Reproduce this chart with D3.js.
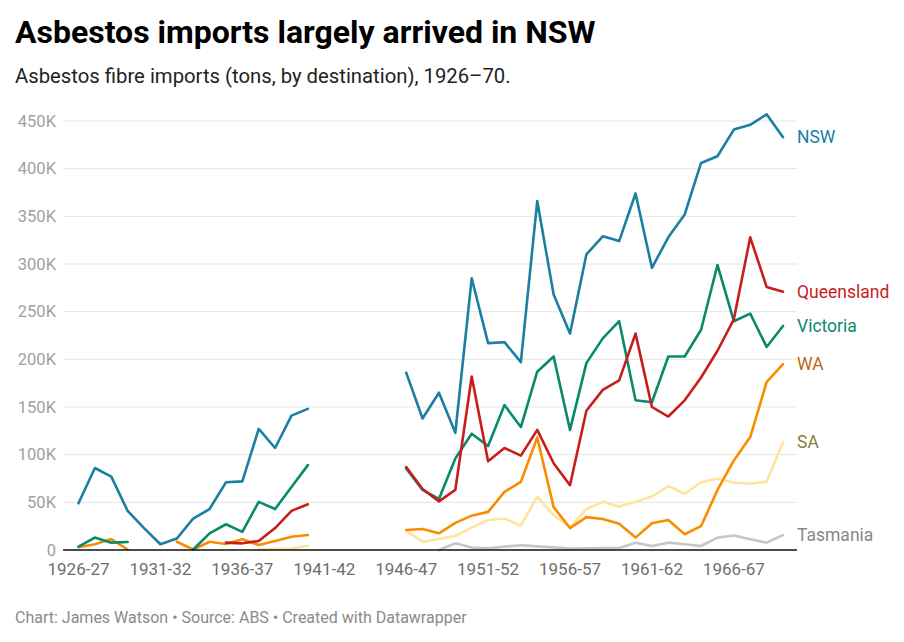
<!DOCTYPE html>
<html>
<head>
<meta charset="utf-8">
<script src="https://cdn.jsdelivr.net/npm/d3@7"></script>
<style>
  body { margin: 0; background: #fff; }
  svg { display: block; font-family: Roboto, "Noto Sans", sans-serif; }
</style>
</head>
<body>
<svg width="904" height="642"></svg>
<script>
// financial years, 1926-27 to 1969-70 (war years have no data)
var years = ["1926-27","1927-28","1928-29","1929-30","1930-31","1931-32","1932-33","1933-34","1934-35","1935-36",
  "1936-37","1937-38","1938-39","1939-40","1940-41","1941-42","1942-43","1943-44","1944-45","1945-46",
  "1946-47","1947-48","1948-49","1949-50","1950-51","1951-52","1952-53","1953-54","1954-55","1955-56",
  "1956-57","1957-58","1958-59","1959-60","1960-61","1961-62","1962-63","1963-64","1964-65","1965-66",
  "1966-67","1967-68","1968-69","1969-70"];

var xTicks = ["1926-27","1931-32","1936-37","1941-42","1946-47","1951-52","1956-57","1961-62","1966-67"];
var yTicks = [0, 50000, 100000, 150000, 200000, 250000, 300000, 350000, 400000, 450000];

var nsw = [49000, 86000, 77000, 41000, 23000, 6000, 12000, 33000, 43000, 71000,
  72000, 127000, 107000, 141000, 148000, null, null, null, null, null,
  186000, 138000, 165000, 123000, 285000, 217000, 218000, 197000, 366000, 268000,
  227000, 310000, 329000, 324000, 374000, 296000, 328000, 352000, 406000, 413000,
  441000, 446000, 457000, 433000];

var queensland = [null, null, null, null, null, null, null, null, null, 7700,
  7000, 9400, 23000, 41000, 48000, null, null, null, null, null,
  87000, 64000, 51000, 63000, 182000, 93000, 107000, 99000, 126000, 91000,
  68000, 146000, 168000, 178000, 227000, 150000, 140000, 157000, 181000, 209000,
  242000, 328000, 276000, 271000];

var victoria = [3500, 13000, 7700, 8400, null, null, null, 500, 17500, 27000,
  19000, 50500, 43000, 66000, 89000, null, null, null, null, null,
  85500, 63000, 53500, 96000, 122000, 109000, 152000, 129000, 187000, 203000,
  126000, 196000, 222000, 240000, 157000, 155000, 203000, 203000, 231000, 299000,
  240000, 248000, 213000, 235000];

var wa = [2800, 6000, 11500, 500, null, null, 8700, 500, 8700, 6300,
  11200, 5200, 9400, 13900, 15700, null, null, null, null, null,
  21000, 22000, 17500, 28500, 36000, 40000, 61000, 71500, 118000, 45000,
  23000, 34500, 32500, 27500, 13000, 28000, 31500, 16500, 25000, 63000,
  94000, 118500, 176000, 195000];

var sa = [null, null, null, null, null, null, null, null, null, null,
  null, 500, 1000, 1500, 4500, null, null, null, null, null,
  20000, 8700, 11500, 14700, 23500, 31500, 33000, 25500, 56000, 36500,
  24000, 43000, 50500, 45500, 50500, 56000, 67000, 59000, 71000, 75000,
  70500, 69500, 71500, 113000];

var tasmania = [null, null, null, null, null, null, null, null, null, null,
  null, null, null, null, null, null, null, null, null, null,
  null, null, 0, 7000, 2500, 1700, 3500, 5000, 3800, 2800,
  1400, 1700, 2000, 2000, 7700, 4200, 7700, 6000, 4200, 13000,
  15300, 11200, 7700, 15700];

var seriesNames = ["Tasmania", "SA", "WA", "Victoria", "Queensland", "NSW"];
var seriesValues = [tasmania, sa, wa, victoria, queensland, nsw];
var lineColors = ["#c6c6c6", "#ffe49c", "#fa8c00", "#0a8a6c", "#c71e1d", "#1a7fa2"];
var labelColors = ["#888888", "#8c7d3c", "#c4660b", "#0a8a6c", "#c71e1d", "#1a7fa2"];

var svg = d3.select("svg"),
    width = 904,
    height = 642;

var x = d3.scalePoint().domain(years).range([78.5, 783]);
var y = d3.scaleLinear().domain([0, 450000]).range([550, 121]);

// title block
svg.append("text")
    .attr("x", 15).attr("y", 43)
    .attr("font-size", 32).attr("font-weight", 700).attr("fill", "#000")
    .text("Asbestos imports largely arrived in NSW");

svg.append("text")
    .attr("x", 15).attr("y", 83)
    .attr("font-size", 20.3).attr("fill", "#222")
    .text("Asbestos fibre imports (tons, by destination), 1926–70.");

// gridlines + y labels
var grid = svg.append("g");
grid.selectAll("line")
    .data(yTicks.filter(d => d > 0))
    .join("line")
    .attr("x1", 63).attr("x2", 797)
    .attr("y1", d => y(d)).attr("y2", d => y(d))
    .attr("stroke", "#e4e4e4").attr("stroke-width", 1);

grid.selectAll("text")
    .data(yTicks)
    .join("text")
    .attr("x", 56).attr("y", d => y(d))
    .attr("dy", "0.35em")
    .attr("text-anchor", "end")
    .attr("font-size", 16.5).attr("fill", "#a0a0a0")
    .text(d => d === 0 ? "0" : (d / 1000) + "K");

// x axis labels
svg.append("g").selectAll("text")
    .data(xTicks)
    .join("text")
    .attr("x", d => x(d)).attr("y", 575)
    .attr("text-anchor", "middle")
    .attr("font-size", 17).attr("fill", "#6e6e6e")
    .text(d => d);

// lines
var line = d3.line()
    .defined(d => d[1] != null)
    .x(d => x(d[0]))
    .y(d => y(d[1]));

var lines = svg.append("g");
seriesValues.forEach(function(vals, i) {
    var pts = years.map((yr, j) => [yr, vals[j]]);
    lines.append("path")
        .datum(pts)
        .attr("d", line)
        .attr("fill", "none")
        .attr("stroke", lineColors[i])
        .attr("stroke-width", 2.6)
        .attr("stroke-linejoin", "round")
        .attr("stroke-linecap", "round");
});

// baseline
svg.append("line")
    .attr("x1", 63).attr("x2", 797)
    .attr("y1", y(0)).attr("y2", y(0))
    .attr("stroke", "#111").attr("stroke-width", 1.3);

// end labels
svg.append("g").selectAll("text")
    .data(seriesNames)
    .join("text")
    .attr("x", 797)
    .attr("y", (d, i) => y(seriesValues[i][years.length - 1]))
    .attr("dy", "0.35em")
    .attr("font-size", 17.5)
    .attr("fill", (d, i) => labelColors[i])
    .text(d => d);

// footer
svg.append("text")
    .attr("x", 15).attr("y", 623)
    .attr("font-size", 16).attr("fill", "#8a8a8a")
    .text("Chart: James Watson • Source: ABS • Created with Datawrapper");
</script>
</body>
</html>
